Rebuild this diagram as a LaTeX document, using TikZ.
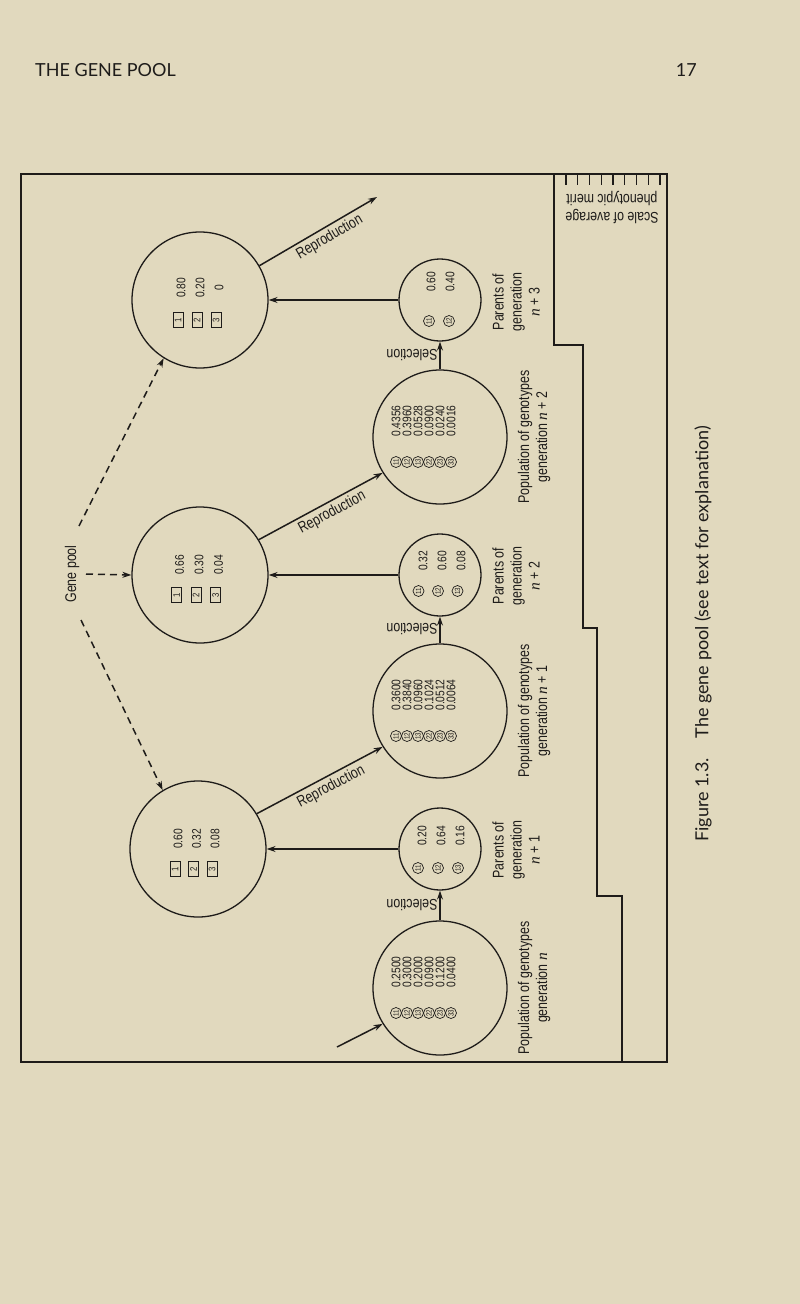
\documentclass[tikz,border=0pt]{standalone}
\usepackage{fontspec}
\setmainfont{Liberation Sans}
\newfontfamily\cnd[FakeStretch=0.8]{Liberation Sans}
\newfontfamily\numf[FakeStretch=0.82]{Liberation Sans}
\newfontfamily\opt{Lato}
\newfontfamily\serit{Liberation Serif}
\usetikzlibrary{arrows.meta}
\definecolor{bgc}{RGB}{225,217,190}
\definecolor{inkc}{RGB}{30,28,26}
\begin{document}
\begin{tikzpicture}[x=1pt,y=-1pt,
  pool/.style={circle,draw=inkc,line width=1.3pt,minimum size=136pt,inner sep=0pt},
  parc/.style={circle,draw=inkc,line width=1.3pt,minimum size=82pt,inner sep=0pt},
  popc/.style={circle,draw=inkc,line width=1.3pt,minimum size=134pt,inner sep=0pt},
  numtxt/.style={rotate=90,inner sep=0pt,text=inkc,font=\numf\fontsize{12.5}{12.5}\selectfont},
  boxn/.style={rotate=90,draw=inkc,line width=0.7pt,minimum width=15pt,minimum height=10pt,inner sep=0pt,text=inkc,font=\numf\fontsize{9.5}{9.5}\selectfont},
  circn/.style={circle,rotate=90,draw=inkc,line width=0.7pt,minimum size=11pt,inner sep=0pt,text=inkc,font=\numf\fontsize{7.5}{7.5}\selectfont},
  lbl/.style={inner sep=0pt,text=inkc,font=\cnd\fontsize{15.5}{18}\selectfont,align=center},
  arr/.style={draw=inkc,line width=1.5pt,-{Stealth[length=9pt,width=6pt]}},
  darr/.style={arr,dash pattern=on 7pt off 5pt},
  thin/.style={draw=inkc,line width=1.3pt},
]
\useasboundingbox (0,0) rectangle (800,1304);
\fill[bgc] (0,0) rectangle (800,1304);

% header
\node[anchor=base west,inner sep=0pt,text=inkc,font=\opt\fontsize{18}{18}\selectfont] (hd) at (35,76) {THE GENE POOL};
\node[anchor=base east,inner sep=0pt,text=inkc,font=\opt\fontsize{18}{18}\selectfont] (pg) at (697,76) {17};

% frame and scale
\draw[thin] (21,174) rectangle (667,1062);
\foreach \k in {0,...,8} \draw[thin] ({566+11.75*\k},174) -- ++(0,11);
\node[lbl,rotate=180] (scl) at (612,208) {Scale of average\\phenotypic merit};
\draw[thin] (554,174) -- (554,345) -- (583,345) -- (583,628) -- (597,628) -- (597,896) -- (622,896) -- (622,1062);

% caption
\node[rotate=90,anchor=west,inner sep=0pt,text=inkc,font=\opt\fontsize{18}{18}\selectfont] (cap) at (703,842) {Figure 1.3.\hspace{1.1em}The gene pool (see text for explanation)};

% gene pools
\node[pool] (G3) at (200,300) {};
\node[pool] (G2) at (200,575) {};
\node[pool] (G1) at (198,849) {};
\foreach \v [count=\i] in {0.80,0.20,0} \node[numtxt] (g3v\i) at ({162+19*\i},288) {\v};
\foreach \i in {1,2,3} \node[boxn] (g3b\i) at ({159+19*\i},320) {\i};
\foreach \v [count=\i] in {0.66,0.30,0.04} \node[numtxt] (g2v\i) at ({160+19.5*\i},565) {\v};
\foreach \i in {1,2,3} \node[boxn] (g2b\i) at ({157+19.5*\i},595) {\i};
\foreach \v [count=\i] in {0.60,0.32,0.08} \node[numtxt] (g1v\i) at ({159.5+18.5*\i},839) {\v};
\foreach \i in {1,2,3} \node[boxn] (g1b\i) at ({156.5+18.5*\i},869) {\i};

% parents
\node[parc] (P3) at (440,300) {};
\node[parc] (P2) at (440,575) {};
\node[parc] (P1) at (440,849) {};
\foreach \v [count=\i] in {0.60,0.40} \node[numtxt] (p3v\i) at ({412+19*\i},282) {\v};
\foreach \c [count=\i] in {11,12} \node[circn] (p3c\i) at ({409+20*\i},321) {\c};
\foreach \v [count=\i] in {0.32,0.60,0.08} \node[numtxt] (p2v\i) at ({404+19*\i},561) {\v};
\foreach \c [count=\i] in {11,12,13} \node[circn] (p2c\i) at ({399+19.5*\i},591) {\c};
\foreach \v [count=\i] in {0.20,0.64,0.16} \node[numtxt] (p1v\i) at ({403+19*\i},836) {\v};
\foreach \c [count=\i] in {11,12,13} \node[circn] (p1c\i) at ({398+20*\i},868) {\c};

% populations
\node[popc] (Q2) at (440,437) {};
\node[popc] (Q1) at (440,711) {};
\node[popc] (Q0) at (440,988) {};
\foreach \v [count=\i] in {0.4356,0.3960,0.0528,0.0900,0.0240,0.0016} \node[numtxt] (q2v\i) at ({385+11*\i},421) {\v};
\foreach \c [count=\i] in {11,12,13,22,23,33} \node[circn] (q2c\i) at ({385+11*\i},462) {\c};
\foreach \v [count=\i] in {0.3600,0.3840,0.0960,0.1024,0.0512,0.0064} \node[numtxt] (q1v\i) at ({385+11*\i},695) {\v};
\foreach \c [count=\i] in {11,12,13,22,23,33} \node[circn] (q1c\i) at ({385+11*\i},736) {\c};
\foreach \v [count=\i] in {0.2500,0.3000,0.2000,0.0900,0.1200,0.0400} \node[numtxt] (q0v\i) at ({385+11*\i},972) {\v};
\foreach \c [count=\i] in {11,12,13,22,23,33} \node[circn] (q0c\i) at ({385+11*\i},1013) {\c};

% labels
\node[lbl,rotate=90] (lp3) at (516,302) {Parents of\\generation\\{\serit\itshape n} + 3};
\node[lbl,rotate=90] (lp2) at (516,576) {Parents of\\generation\\{\serit\itshape n} + 2};
\node[lbl,rotate=90] (lp1) at (516,850) {Parents of\\generation\\{\serit\itshape n} + 1};
\node[lbl,rotate=90] (lq2) at (534,437) {Population of genotypes\\generation {\serit\itshape n} + 2};
\node[lbl,rotate=90] (lq1) at (534,711) {Population of genotypes\\generation {\serit\itshape n} + 1};
\node[lbl,rotate=90] (lq0) at (534,988) {Population of genotypes\\generation {\serit\itshape n}};
\node[lbl,rotate=180] (s3) at (412,355) {Selection};
\node[lbl,rotate=180] (s2) at (412,629) {Selection};
\node[lbl,rotate=180] (s1) at (412,905) {Selection};
\node[lbl,rotate=90] (gp) at (72,574) {Gene pool};

% arrows
\draw[arr] (P3) -- (G3);
\draw[arr] (P2) -- (G2);
\draw[arr] (P1) -- (G1);
\draw[arr] (Q2) -- (P3);
\draw[arr] (Q1) -- (P2);
\draw[arr] (Q0) -- (P1);
\coordinate (r3) at (377,197);
\coordinate (r0) at (337,1047);
\draw[arr] (G3.30) -- node[lbl,sloped,below=3pt,pos=0.55] (rl3) {Reproduction} (r3);
\draw[arr] (G2.31) -- node[lbl,sloped,below=3pt,pos=0.55] (rl2) {Reproduction} (Q2.212);
\draw[arr] (G1.31) -- node[lbl,sloped,below=3pt,pos=0.55] (rl1) {Reproduction} (Q1.212);
\draw[arr] (r0) -- (Q0.212);
\coordinate (d3) at (79,526);
\coordinate (d2) at (86,574);
\coordinate (d1) at (81,620);
\draw[darr] (d3) -- (G3.238);
\draw[darr] (d2) -- (G2.west);
\draw[darr] (d1) -- (G1.121);
\end{tikzpicture}
\end{document}
